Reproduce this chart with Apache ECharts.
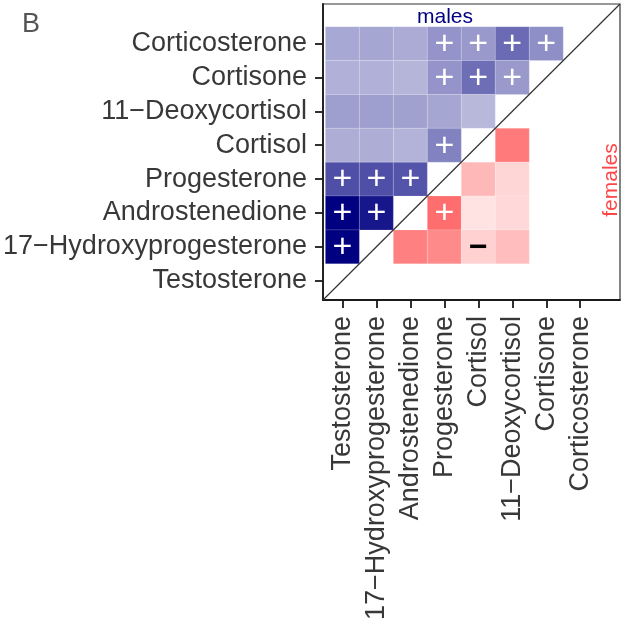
<!DOCTYPE html>
<html>
<head>
<meta charset="utf-8">
<script src="https://cdn.jsdelivr.net/npm/echarts@6/dist/echarts.min.js"></script>
<style>
html,body{margin:0;padding:0;background:#fff;}
#chart{width:625px;height:624px;}
</style>
</head>
<body>
<div id="chart"></div>
<script>
// Hormones in axis order (x: left->right, y: bottom->top)
const hormones = ['Testosterone', '17\u2212Hydroxyprogesterone', 'Androstenedione', 'Progesterone',
  'Cortisol', '11\u2212Deoxycortisol', 'Cortisone', 'Corticosterone'];
const tickValues = [0, 1, 2, 3, 4, 5, 6, 7];

// Males (upper-left triangle): [xIndex, yIndex, strength 0..1, sign (1 '+', -1 '−', 0 none)]
const malesCells = [
  [0, 7, 0.34, 0], [1, 7, 0.35, 0], [2, 7, 0.33, 0], [3, 7, 0.42, 1], [4, 7, 0.40, 1], [5, 7, 0.58, 1], [6, 7, 0.44, 1],
  [0, 6, 0.31, 0], [1, 6, 0.31, 0], [2, 6, 0.29, 0], [3, 6, 0.42, 1], [4, 6, 0.57, 1], [5, 6, 0.40, 1],
  [0, 5, 0.38, 0], [1, 5, 0.38, 0], [2, 5, 0.37, 0], [3, 5, 0.35, 0], [4, 5, 0.28, 0],
  [0, 4, 0.32, 0], [1, 4, 0.32, 0], [2, 4, 0.30, 0], [3, 4, 0.49, 1],
  [0, 3, 0.69, 1], [1, 3, 0.69, 1], [2, 3, 0.67, 1],
  [0, 2, 1.00, 1], [1, 2, 0.91, 1],
  [0, 1, 1.00, 1]
];

// Females (lower-right triangle)
const femalesCells = [
  [5, 4, 0.52, 0],
  [4, 3, 0.28, 0], [5, 3, 0.16, 0],
  [3, 2, 0.57, 1], [4, 2, 0.11, 0], [5, 2, 0.15, 0],
  [2, 1, 0.50, 0], [3, 1, 0.46, 0], [4, 1, 0.18, -1], [5, 1, 0.26, 0]
];

const axisMin = -0.57, axisMax = 8.17;
const diagonal = [[axisMin, axisMin], [axisMax, axisMax]];

const FONT = '"Liberation Sans", Arial, Helvetica, sans-serif';

function renderTile(params, api) {
  const x = api.value(0), y = api.value(1), sign = api.value(3);
  const p0 = api.coord([x - 0.5, y + 0.5]);
  const p1 = api.coord([x + 0.5, y - 0.5]);
  const c = api.coord([x, y]);
  const color = api.visual('color');
  const children = [{
    type: 'rect',
    shape: { x: p0[0], y: p0[1], width: p1[0] - p0[0], height: p1[1] - p0[1] },
    style: { fill: color, stroke: 'rgba(255,255,255,0.25)', lineWidth: 0.6 }
  }];
  if (sign === 1) {
    children.push({ type: 'text', style: { text: '+', x: c[0], y: c[1] + 1, fill: '#ffffff',
      font: '34px ' + FONT, align: 'center', verticalAlign: 'middle' } });
  } else if (sign === -1) {
    children.push({ type: 'text', style: { text: '\u2212', x: c[0], y: c[1] + 1, fill: '#000000',
      font: 'bold 32px ' + FONT, align: 'center', verticalAlign: 'middle' } });
  }
  return { type: 'group', children: children };
}

const chart = echarts.init(document.getElementById('chart'), null, { renderer: 'canvas' });

const axisCommon = {
  type: 'value',
  min: axisMin,
  max: axisMax,
  splitLine: { show: false },
  axisLine: { show: true, onZero: false, lineStyle: { color: '#1a1a1a', width: 1.8 } },
  axisTick: { show: true, customValues: tickValues, length: 8, lineStyle: { color: '#1a1a1a', width: 1.8 } },
  axisLabel: {
    customValues: tickValues,
    formatter: v => hormones[Math.round(v)],
    color: '#383838', fontSize: 27, fontFamily: FONT
  }
};

chart.setOption({
  animation: false,
  backgroundColor: '#ffffff',
  grid: { left: 323, top: 4, right: 5, bottom: 324, show: true, borderColor: '#333', borderWidth: 1.2, containLabel: false },
  xAxis: Object.assign({}, axisCommon, {
    axisLabel: Object.assign({}, axisCommon.axisLabel, { rotate: 90, margin: 16 })
  }),
  yAxis: Object.assign({}, axisCommon, {
    axisLabel: Object.assign({}, axisCommon.axisLabel, { margin: 16 })
  }),
  visualMap: [
    { type: 'continuous', show: false, seriesIndex: 0, dimension: 2, min: 0, max: 1, inRange: { color: ['#ffffff', '#000080'] } },
    { type: 'continuous', show: false, seriesIndex: 1, dimension: 2, min: 0, max: 1, inRange: { color: ['#ffffff', '#ff0000'] } }
  ],
  series: [
    { type: 'custom', name: 'males', renderItem: renderTile, data: malesCells, clip: false },
    { type: 'custom', name: 'females', renderItem: renderTile, data: femalesCells, clip: false },
    { type: 'line', data: diagonal, symbol: 'none', silent: true,
      lineStyle: { color: '#333', width: 1.2 }, z: 5 }
  ],
  graphic: [
    { type: 'text', left: 22, top: 11, style: { text: 'B', fill: '#555', font: '27px ' + FONT } },
    { type: 'text', x: 445, y: 17, style: { text: 'males', fill: '#000080', font: '21px ' + FONT, align: 'center', verticalAlign: 'middle' } },
    { type: 'text', x: 611, y: 180, rotation: Math.PI / 2, style: { text: 'females', fill: '#ff4545', font: '21px ' + FONT, align: 'center', verticalAlign: 'middle' } }
  ]
});
</script>
</body>
</html>
